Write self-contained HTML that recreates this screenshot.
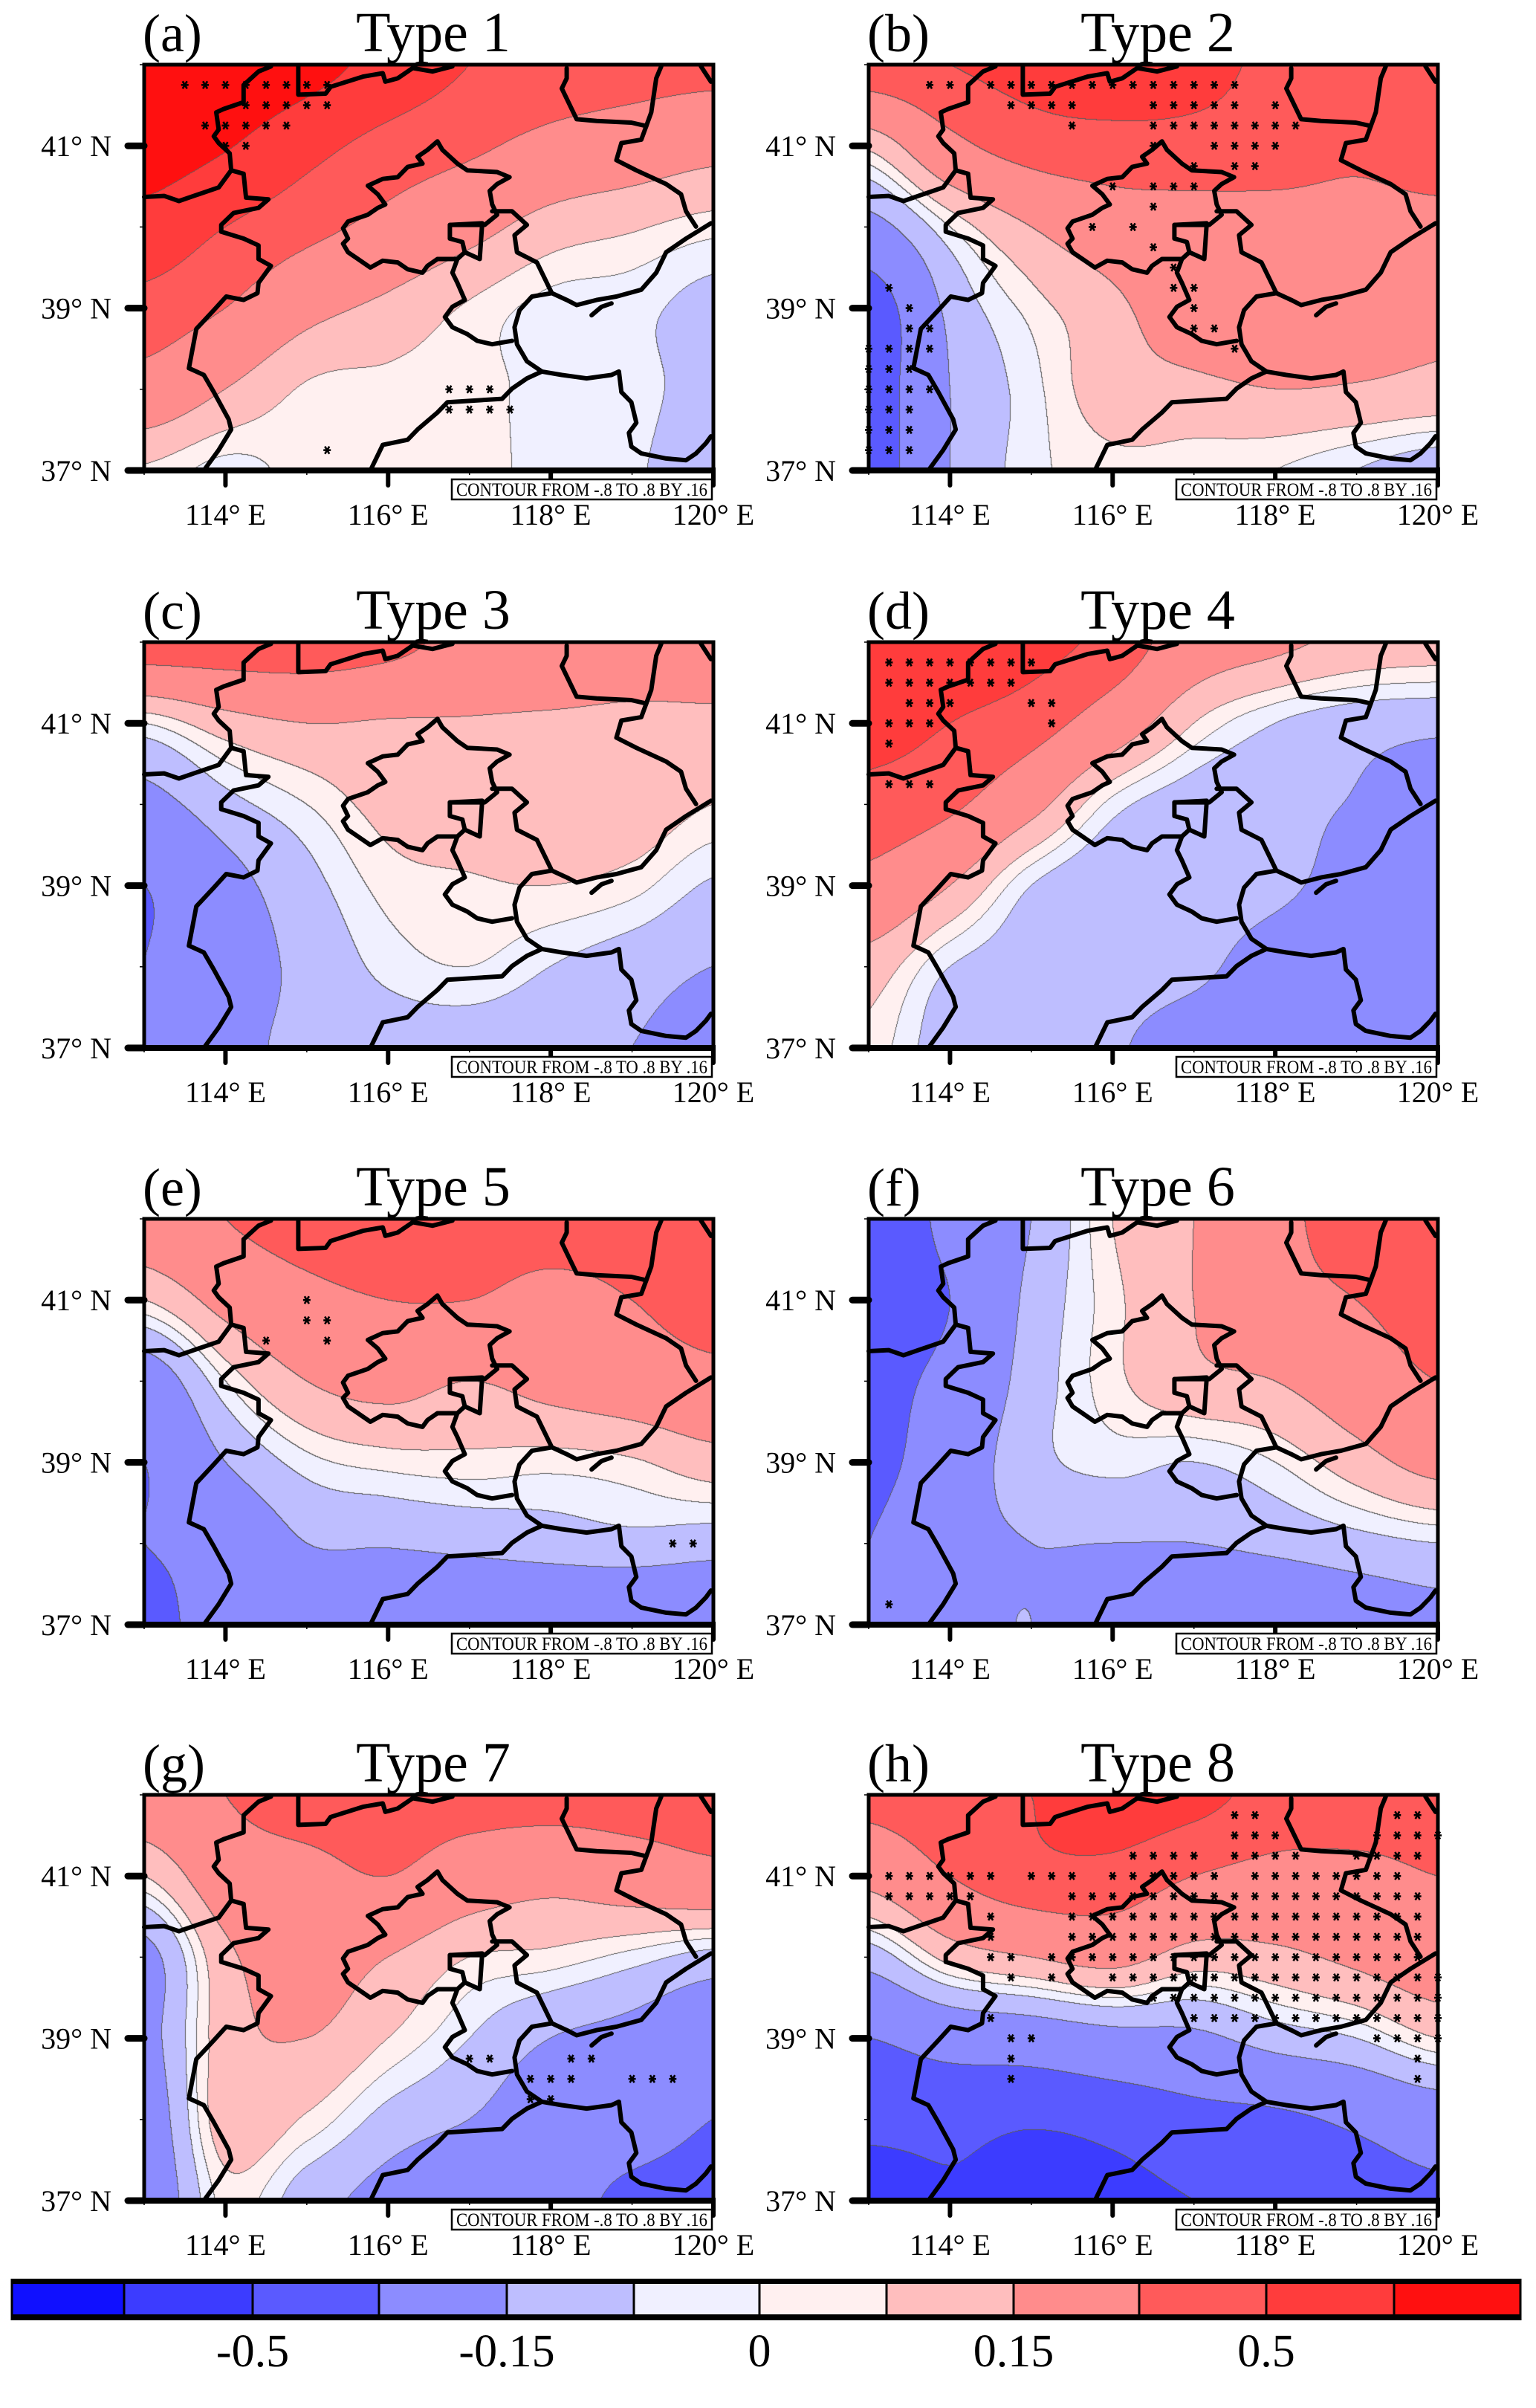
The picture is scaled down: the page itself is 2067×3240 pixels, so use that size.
<!DOCTYPE html>
<html>
<head>
<meta charset="utf-8">
<style>
  html,body{margin:0;padding:0;background:#fff;}
  body{width:2067px;height:3208px;position:relative;overflow:hidden;font-family:"Liberation Serif",serif;}
  canvas{position:absolute;display:block;}
  svg{position:absolute;overflow:visible;}
</style>
</head>
<body>
<div id="root"></div>
<script>
// ---------- chart data ----------
const levelBounds = [-0.65,-0.5,-0.35,-0.15,-0.05,0,0.05,0.15,0.35,0.5,0.65];
const levelColors = ["#1010ff","#3c3cff","#5a5aff","#8c8cff","#bebeff","#f0f0ff","#fff0f0","#ffbebe","#ff8c8c","#ff5a5a","#ff3c3c","#ff1010"];
const colorbarLabels = ["-0.5","-0.15","0","0.15","0.5"];
const colorbarLabelIdx = [2,4,6,8,10];
const gridLons = [113,114,115,116,117,118,119,120];
const gridLats = [42,41,40,39,38,37];
const lonTicks = [114,116,118,120];
const lonTickLabels = ["114° E","116° E","118° E","120° E"];
const latTicks = [41,39,37];
const latTickLabels = ["41° N","39° N","37° N"];
const panelLetters = ["(a)","(b)","(c)","(d)","(e)","(f)","(g)","(h)"];
const panelTitles = ["Type 1","Type 2","Type 3","Type 4","Type 5","Type 6","Type 7","Type 8"];

const gridType1 = [
 [0.75,0.75,0.7,0.6,0.5,0.45,0.42,0.4],
 [0.72,0.66,0.55,0.45,0.38,0.3,0.25,0.2],
 [0.6,0.5,0.4,0.3,0.2,0.1,0.06,0.02],
 [0.45,0.35,0.2,0.12,0.04,-0.02,-0.03,-0.08],
 [0.28,0.15,0.04,0.03,0.02,-0.02,-0.03,-0.08],
 [0.04,-0.02,0.02,0.02,0.02,-0.02,-0.04,-0.1]];
const gridType2 = [
 [0.45,0.5,0.55,0.58,0.55,0.47,0.45,0.45],
 [0.07,0.3,0.42,0.45,0.45,0.42,0.38,0.42],
 [-0.2,0.0,0.15,0.25,0.28,0.3,0.3,0.3],
 [-0.45,-0.12,0.02,0.12,0.25,0.3,0.22,0.18],
 [-0.45,-0.15,-0.02,0.1,0.12,0.15,0.14,0.12],
 [-0.45,-0.15,-0.02,0.03,0.02,0.0,-0.05,-0.1]];
const gridType3 = [
 [0.45,0.45,0.45,0.4,0.3,0.3,0.25,0.25],
 [0.0,0.1,0.15,0.14,0.14,0.13,0.12,0.12],
 [-0.2,-0.08,0.0,0.08,0.11,0.13,0.11,0.05],
 [-0.35,-0.2,-0.08,0.02,0.04,0.05,0.02,-0.06],
 [-0.35,-0.22,-0.12,-0.03,0.0,-0.05,-0.1,-0.15],
 [-0.35,-0.2,-0.12,-0.1,-0.1,-0.12,-0.15,-0.2]];
const gridType4 = [
 [0.57,0.58,0.55,0.45,0.25,0.18,0.12,0.1],
 [0.55,0.5,0.42,0.25,0.05,-0.05,-0.1,-0.12],
 [0.45,0.38,0.2,-0.02,-0.1,-0.12,-0.16,-0.25],
 [0.3,0.15,-0.05,-0.12,-0.12,-0.13,-0.2,-0.3],
 [0.1,-0.05,-0.1,-0.12,-0.13,-0.2,-0.25,-0.3],
 [0.03,-0.1,-0.12,-0.14,-0.2,-0.25,-0.28,-0.33]];
const gridType5 = [
 [0.25,0.35,0.42,0.45,0.42,0.42,0.42,0.45],
 [0.05,0.2,0.3,0.35,0.35,0.3,0.35,0.42],
 [-0.25,0.0,0.15,0.2,0.15,0.2,0.25,0.3],
 [-0.35,-0.15,-0.02,0.02,0.03,0.02,0.04,0.1],
 [-0.35,-0.28,-0.15,-0.14,-0.12,-0.1,-0.08,-0.1],
 [-0.4,-0.28,-0.25,-0.3,-0.3,-0.3,-0.32,-0.32]];
const gridType6 = [
 [-0.5,-0.3,-0.15,0.05,0.15,0.3,0.42,0.45],
 [-0.45,-0.35,-0.12,0.03,0.15,0.28,0.35,0.42],
 [-0.4,-0.3,-0.1,0.03,0.12,0.15,0.25,0.35],
 [-0.4,-0.25,-0.08,-0.03,-0.05,0.0,0.1,0.2],
 [-0.35,-0.2,-0.15,-0.15,-0.15,-0.12,-0.08,-0.05],
 [-0.35,-0.22,-0.15,-0.28,-0.3,-0.3,-0.25,-0.2]];
const gridType7 = [
 [0.25,0.35,0.42,0.42,0.42,0.42,0.42,0.42],
 [0.05,0.25,0.3,0.35,0.25,0.2,0.25,0.3],
 [-0.2,0.12,0.22,0.15,0.05,0.03,-0.02,-0.08],
 [-0.2,0.1,0.15,0.05,-0.05,-0.15,-0.2,-0.28],
 [-0.25,0.1,0.04,-0.08,-0.15,-0.25,-0.28,-0.35],
 [-0.28,0.02,-0.1,-0.2,-0.3,-0.3,-0.38,-0.4]];
const gridType8 = [
 [0.4,0.45,0.5,0.58,0.55,0.45,0.45,0.45],
 [0.2,0.35,0.45,0.45,0.35,0.3,0.3,0.35],
 [-0.1,0.08,0.15,0.2,0.1,0.12,0.18,0.25],
 [-0.35,-0.28,-0.25,-0.2,-0.18,-0.1,-0.05,0.05],
 [-0.45,-0.45,-0.48,-0.45,-0.4,-0.38,-0.32,-0.25],
 [-0.6,-0.52,-0.58,-0.54,-0.5,-0.48,-0.42,-0.38]];

// significance dots: [lat, lonStart, lonEnd] rows (0.25 deg spacing)
const dotsType1 = [[41.75,113.5,115.25],[41.5,114.25,115.25],[41.25,113.75,114.75],[41.0,114,114.25],[38.0,116.75,117.25],[37.75,116.75,117.5],[37.25,115.25,115.25]];
const dotsType2 = [[41.75,113.75,114.0],[41.75,114.5,117.5],[41.5,114.75,115.5],[41.5,116.5,117.5],[41.5,118,118],[41.25,115.5,115.5],[41.25,116.5,118.25],[41.0,116.5,116.5],[41.0,117.25,118],[40.75,117,117],[40.75,117.5,117.75],[40.5,116,116],[40.5,116.5,117],[40.25,116.5,116.5],[40.0,115.75,115.75],[40.0,116.25,116.25],[39.75,116.5,116.5],[39.5,116.75,116.75],[39.25,113.25,113.25],[39.25,116.75,117],[39.0,113.5,113.5],[39.0,117,117],[38.75,113.5,113.75],[38.75,117,117.25],[38.5,113,113.75],[38.5,117.5,117.5],[38.25,113,113.5],[38.0,113,113.75],[37.75,113,113.5],[37.5,113,113.5],[37.25,113,113.5]];
const dotsType3 = [];
const dotsType4 = [[41.75,113.25,115.0],[41.5,113.25,114.75],[41.25,113.5,114.0],[41.25,115,115.25],[41.0,113.25,113.75],[41.0,115.25,115.25],[40.75,113.25,113.25],[40.25,113.25,113.75]];
const dotsType5 = [[41.0,115,115],[40.75,115,115.25],[40.5,114.5,114.5],[40.5,115.25,115.25],[38.0,119.5,119.75]];
const dotsType6 = [[37.25,113.25,113.25]];
const dotsType7 = [[38.75,117,117.25],[38.75,118.25,118.5],[38.5,117.75,118.25],[38.5,119,119.5],[38.25,117.75,118]];
const dotsType8 = [[41.75,117.5,117.75],[41.75,119.5,119.75],[41.5,117.5,118],[41.5,119.25,120],[41.25,116.25,117],[41.25,117.5,118.25],[41.25,119,119.75],[41.0,113.25,114.5],[41.0,115,115.5],[41.0,116,117.25],[41.0,117.75,119.5],[40.75,113.25,114.25],[40.75,115.5,119.75],[40.5,114.5,114.5],[40.5,115.5,119.75],[40.25,114.5,114.5],[40.25,115.5,119.75],[40.0,114.5,114.75],[40.0,115.25,119.75],[39.75,114.75,114.75],[39.75,115.25,115.25],[39.75,116,120],[39.5,116.5,120],[39.25,114.5,114.5],[39.25,117,120],[39.0,114.75,115],[39.0,119.25,120],[38.75,114.75,114.75],[38.75,119.75,119.75],[38.5,114.75,114.75],[38.5,119.75,119.75]];

const panelGrids = [gridType1,gridType2,gridType3,gridType4,gridType5,gridType6,gridType7,gridType8];
const panelDots = [dotsType1,dotsType2,dotsType3,dotsType4,dotsType5,dotsType6,dotsType7,dotsType8];

// province borders traced in reference pixel space (base frame 290..1435 x 190..1380)
const borderLines = [
 [290,578,330,575,360,590,390,575,440,550,465,500,462,450,440,420,430,400,440,380,435,330,450,320,490,300,490,250,520,210,545,195],
 [600,195,600,278,655,275,665,255,730,225,770,215,775,240,800,230,830,200,870,210,910,195],
 [465,500,490,510,495,580,540,585,520,610,470,625,445,660,445,680,490,700,520,720,520,760,545,780,520,830,518,860,490,880,455,870,430,910,395,965,380,1080,410,1100,430,1150,460,1230,465,1260,440,1320,410,1380],
 [880,415,890,440,920,480,940,500,1000,505,1025,520,1000,540,985,560,990,600,1000,630,975,660,940,660,905,660,905,700,930,710,935,740,920,760,880,760,860,780,850,800,820,790,800,770,770,765,745,785,720,760,700,740,690,715,700,700,690,670,700,650,740,630,760,610,775,600,760,570,740,545,770,525,800,520,820,490,850,480,840,460,860,440,880,415],
 [990,620,1030,620,1060,660,1035,690,1040,740,1080,770,1100,830,1110,860],
 [905,660,970,655,965,760,935,740],
 [920,760,910,800,920,830,935,880,910,900,895,930,910,960,940,980,960,1000,990,1010,1030,1000],
 [1110,860,1140,880,1160,895,1200,880,1240,870,1290,850,1320,800,1340,740,1380,700,1430,655],
 [1110,860,1070,870,1045,910,1035,960,1040,1010,1060,1060,1090,1090,1130,1100,1180,1110,1230,1100,1245,1090,1250,1150,1270,1180,1280,1240,1265,1270,1270,1310,1290,1330,1340,1345,1380,1350,1400,1330,1420,1300,1430,1280],
 [1090,1090,1060,1110,1030,1140,1010,1170,900,1180,880,1210,840,1260,820,1290,770,1305,745,1380],
 [1330,195,1320,230,1310,330,1300,370,1290,410,1250,420,1240,470,1280,500,1340,540,1370,570,1380,620,1400,665],
 [1140,200,1140,230,1130,260,1160,350,1200,355,1270,360,1300,370],
 [1410,195,1430,240],
 [1190,925,1210,900,1230,890]
];

// ---------- layout ----------
const colX = [194,1169];
const rowY = [87,864,1640,2415];
const PW = 766, PH = 546;
const NS = "http://www.w3.org/2000/svg";
const root = document.getElementById('root');

function lonToX(lon){ return (lon-113)/7*PW; }
function latToY(lat){ return (42-lat)/5*PH; }
function hexRgb(h){ return [parseInt(h.substr(1,2),16),parseInt(h.substr(3,2),16),parseInt(h.substr(5,2),16)]; }
const rgbColors = levelColors.map(hexRgb);

function cr(p0,p1,p2,p3,t){
  return 0.5*((2*p1)+(-p0+p2)*t+(2*p0-5*p1+4*p2-p3)*t*t+(-p0+3*p1-3*p2+p3)*t*t*t);
}
function sample(grid,gx,gy){
  const nr=grid.length, nc=grid[0].length;
  let ix=Math.floor(gx), iy=Math.floor(gy);
  if(ix>nc-2) ix=nc-2; if(iy>nr-2) iy=nr-2;
  const tx=gx-ix, ty=gy-iy;
  const rows=[];
  for(let j=-1;j<=2;j++){
    const r=grid[Math.min(nr-1,Math.max(0,iy+j))];
    const c=(k)=>r[Math.min(nc-1,Math.max(0,ix+k))];
    rows.push(cr(c(-1),c(0),c(1),c(2),tx));
  }
  return cr(rows[0],rows[1],rows[2],rows[3],ty);
}
function levelIndex(v){ let k=0; for(const b of levelBounds){ if(v>=b) k++; } return k; }

function svgEl(tag,attrs,parent){
  const e=document.createElementNS(NS,tag);
  for(const k in attrs) e.setAttribute(k,attrs[k]);
  if(parent) parent.appendChild(e);
  return e;
}

for(let p=0;p<8;p++){
  const x0=colX[p%2], y0=rowY[Math.floor(p/2)];
  const grid=panelGrids[p];
  const cv=document.createElement('canvas');
  
  
  cv.width=PW; cv.height=PH;
  cv.style.left=x0+'px'; cv.style.top=y0+'px';
  const ctx=cv.getContext('2d');
  const img=ctx.createImageData(PW,PH);
  const idx=new Uint8Array(PW*PH);
  for(let y=0;y<PH;y++){
    const gy=y/(PH-1)*(gridLats.length-1);
    for(let x=0;x<PW;x++){
      const gx=x/(PW-1)*(gridLons.length-1);
      idx[y*PW+x]=levelIndex(sample(grid,gx,gy));
    }
  }
  for(let y=0;y<PH;y++){
    for(let x=0;x<PW;x++){
      const i=y*PW+x, k=idx[i];
      let c=rgbColors[k];
      if((x<PW-1&&idx[i+1]!==k)||(y<PH-1&&idx[i+PW]!==k)) c=[90,90,90];
      img.data[i*4]=c[0]; img.data[i*4+1]=c[1]; img.data[i*4+2]=c[2]; img.data[i*4+3]=255;
    }
  }
  ctx.putImageData(img,0,0);
  root.appendChild(cv);

  const svg=svgEl('svg',{width:PW+240,height:PH+240,viewBox:'0 0 '+(PW+240)+' '+(PH+240)});
  
  
  svg.style.left=(x0-180)+'px'; svg.style.top=(y0-120)+'px';
  root.appendChild(svg);
  const g=svgEl('g',{transform:'translate(180,120)'},svg);

  const gb=svgEl('g',{fill:'none',stroke:'#000','stroke-width':6,'stroke-linejoin':'round','stroke-linecap':'round'},g);
  
  
  borderLines.forEach(line=>{
    let pts=[];
    for(let i=0;i<line.length;i+=2){
      pts.push(((line[i]-290)/1145*PW).toFixed(1)+','+((line[i+1]-190)/1190*PH).toFixed(1));
    }
    svgEl('polyline',{points:pts.join(' ')},gb);
  });

  const gd=svgEl('g',{stroke:'#000','stroke-width':2.6},g);
  
  
  panelDots[p].forEach(r=>{
    for(let lon=r[1];lon<=r[2]+1e-6;lon+=0.25){
      const cx=lonToX(lon), cy=latToY(r[0]);
      const d='M'+(cx-5)+' '+cy+'h10M'+(cx-3)+' '+(cy-5)+'l6 10M'+(cx+3)+' '+(cy-5)+'l-6 10';
      svgEl('path',{d:d},gd);
    }
  });

  const fr=svgEl('rect',{x:0,y:0,width:PW,height:PH,fill:'none',stroke:'#000','stroke-width':5},g);
  
  
  svgEl('line',{x1:-4,x2:PW+3,y1:PH,y2:PH,stroke:'#000','stroke-width':8},g);

  [42,40,38].forEach(lat=>{ svgEl('line',{x1:-6,x2:0,y1:latToY(lat),y2:latToY(lat),stroke:'#000','stroke-width':1.5},g); });
  latTicks.forEach((lat,i)=>{
    const y=latToY(lat);
    svgEl('line',{x1:-22,x2:0,y1:y,y2:y,stroke:'#000','stroke-width':9,'stroke-linecap':'round'},g);
    const t=svgEl('text',{x:-44,y:y+14,'text-anchor':'end','font-family':'Liberation Serif, serif','font-size':40},g);
    
    
    t.textContent=latTickLabels[i];
  });
  [113,115,117,119].forEach(lon=>{ svgEl('line',{x1:lonToX(lon),x2:lonToX(lon),y1:PH,y2:PH+6,stroke:'#000','stroke-width':1.5},g); });
  lonTicks.forEach((lon,i)=>{
    const x=lonToX(lon);
    svgEl('line',{x1:x,x2:x,y1:PH,y2:PH+20,stroke:'#000','stroke-width':6,'stroke-linecap':'round'},g);
    const t=svgEl('text',{x:x,y:PH+73,'text-anchor':'middle','font-family':'Liberation Serif, serif','font-size':40},g);
    
    
    t.textContent=lonTickLabels[i];
  });
  const bx=PW-352;
  svgEl('rect',{x:bx,y:PH+12,width:350,height:27,fill:'#fff',stroke:'#000','stroke-width':2.5},g);
  const ct=svgEl('text',{x:bx+6,y:PH+34,'font-family':'Liberation Serif, serif','font-size':25,textLength:338,lengthAdjust:'spacingAndGlyphs'},g);
  
  
  ct.textContent='CONTOUR FROM -.8 TO .8 BY .16';
  const lt=svgEl('text',{x:-2,y:-18,'font-family':'Liberation Serif, serif','font-size':72},g);
  
  
  lt.textContent=panelLetters[p];
  const tt=svgEl('text',{x:PW/2+6,y:-18,'text-anchor':'middle','font-family':'Liberation Serif, serif','font-size':76},g);
  
  
  tt.textContent=panelTitles[p];
}

// ---------- colorbar ----------
const cbEdges=[16,167,340,510,682,853,1022,1193,1364,1533,1704,1876,2046];
const cb=svgEl('svg',{width:2067,height:240,viewBox:'0 0 2067 240'});


cb.style.left='0px'; cb.style.top='3000px';
root.appendChild(cb);
levelColors.forEach((c,i)=>{
  const r=svgEl('rect',{x:cbEdges[i],y:70,width:cbEdges[i+1]-cbEdges[i],height:48,fill:c},cb);
  
  
});
svgEl('rect',{x:16,y:66,width:2030,height:7,fill:'#000'},cb);
svgEl('rect',{x:16,y:114,width:2030,height:8,fill:'#000'},cb);
cbEdges.forEach(x=>{ svgEl('line',{x1:x,x2:x,y1:66,y2:122,stroke:'#000','stroke-width':3},cb); });
colorbarLabels.forEach((lab,i)=>{
  const t=svgEl('text',{x:cbEdges[colorbarLabelIdx[i]],y:184,'text-anchor':'middle','font-family':'Liberation Serif, serif','font-size':62},cb);
  
  
  t.textContent=lab;
});
</script>
</body>
</html>
